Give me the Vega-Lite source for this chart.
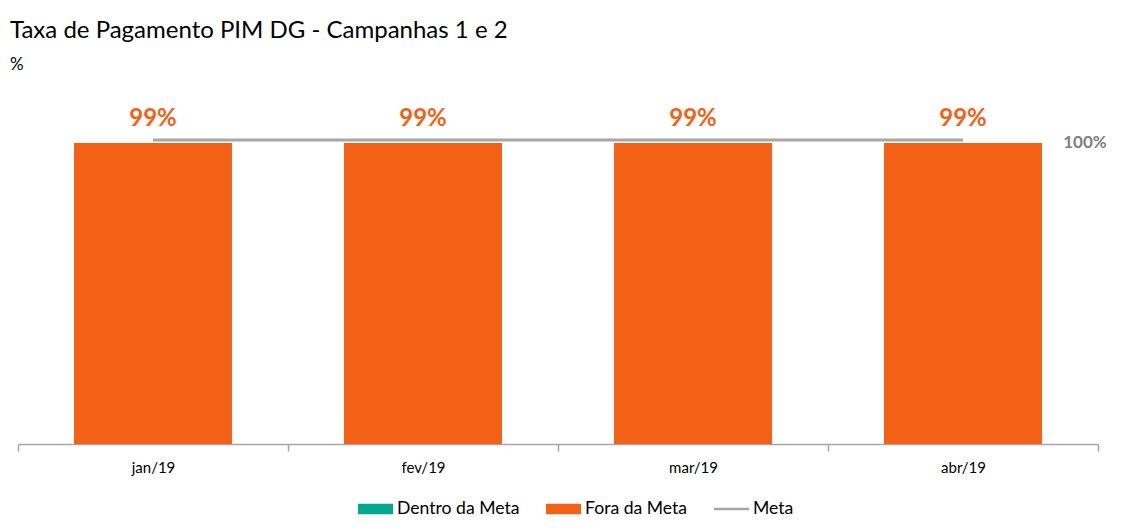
{
  "$schema": "https://vega.github.io/schema/vega-lite/v6.json",
  "width": 1080,
  "height": 304,
  "autosize": "none",
  "padding": {"left": 18, "top": 140, "right": 32, "bottom": 87},
  "background": "white",
  "config": {"view": {"stroke": null}},
  "title": {
    "text": "Taxa de Pagamento PIM DG - Campanhas 1 e 2",
    "subtitle": "%",
    "anchor": "start",
    "frame": "group",
    "dx": -8,
    "offset": 34,
    "font": "Lato",
    "fontSize": 24,
    "fontWeight": "normal",
    "color": "#000000",
    "subtitleFont": "Lato",
    "subtitleFontSize": 17,
    "subtitleColor": "#000000",
    "subtitlePadding": 14
  },
  "data": {
    "values": [
      {"mes": "jan/19", "taxa": 0.99, "meta": 1.0, "status": "Fora da Meta"},
      {"mes": "fev/19", "taxa": 0.99, "meta": 1.0, "status": "Fora da Meta"},
      {"mes": "mar/19", "taxa": 0.99, "meta": 1.0, "status": "Fora da Meta"},
      {"mes": "abr/19", "taxa": 0.99, "meta": 1.0, "status": "Fora da Meta"}
    ]
  },
  "encoding": {
    "x": {
      "field": "mes",
      "type": "nominal",
      "sort": null,
      "scale": {"paddingInner": 0, "paddingOuter": 0},
      "axis": {
        "title": null,
        "labelAngle": 0,
        "tickBand": "extent",
        "domainColor": "#A6A6A6",
        "tickColor": "#A6A6A6",
        "domainWidth": 1.5,
        "tickWidth": 1.5,
        "tickSize": 7,
        "labelFont": "Lato",
        "labelFontSize": 15,
        "labelColor": "#000000",
        "labelPadding": 9,
        "grid": false
      }
    }
  },
  "layer": [
    {
      "mark": {"type": "bar", "width": {"band": 0.585}},
      "encoding": {
        "y": {"field": "taxa", "type": "quantitative", "scale": {"domain": [0, 1]}, "axis": null},
        "color": {
          "field": "status",
          "type": "nominal",
          "scale": {
            "domain": ["Dentro da Meta", "Fora da Meta", "Meta"],
            "range": ["#00A88F", "#F26115", "#A6A6A6"]
          },
          "legend": {
            "orient": "none",
            "legendX": 340,
            "legendY": 351,
            "direction": "horizontal",
            "title": null,
            "symbolType": "M-1,-0.3L1,-0.3L1,0.3L-1,0.3Z",
            "symbolSize": 1225,
            "symbolStrokeWidth": 0,
            "labelFont": "Lato",
            "labelFontSize": 17.6,
            "labelColor": "#000000",
            "labelOffset": 4,
            "columnPadding": 26,
            "encode": {
              "symbols": {
                "update": {
                  "shape": {"signal": "datum.value === 'Meta' ? 'M-1,-0.07L1,-0.07L1,0.07L-1,0.07Z' : 'M-1,-0.3L1,-0.3L1,0.3L-1,0.3Z'"}
                }
              }
            }
          }
        }
      }
    },
    {
      "mark": {"type": "text", "dy": -24, "font": "Lato", "fontSize": 24, "fontWeight": "bold", "color": "#F26115", "baseline": "middle"},
      "encoding": {
        "y": {"field": "taxa", "type": "quantitative", "axis": null},
        "text": {"field": "taxa", "type": "quantitative", "format": ".0%"}
      }
    },
    {
      "mark": {"type": "line", "color": "#A6A6A6", "strokeWidth": 3},
      "encoding": {
        "y": {"field": "meta", "type": "quantitative", "axis": null}
      }
    },
    {
      "transform": [{"filter": "datum.mes == 'abr/19'"}],
      "mark": {"type": "text", "dx": 122, "dy": 3, "font": "Lato", "fontSize": 17, "fontWeight": "bold", "color": "#808080", "baseline": "middle"},
      "encoding": {
        "y": {"field": "meta", "type": "quantitative", "axis": null},
        "text": {"field": "meta", "type": "quantitative", "format": ".0%"}
      }
    }
  ]
}
